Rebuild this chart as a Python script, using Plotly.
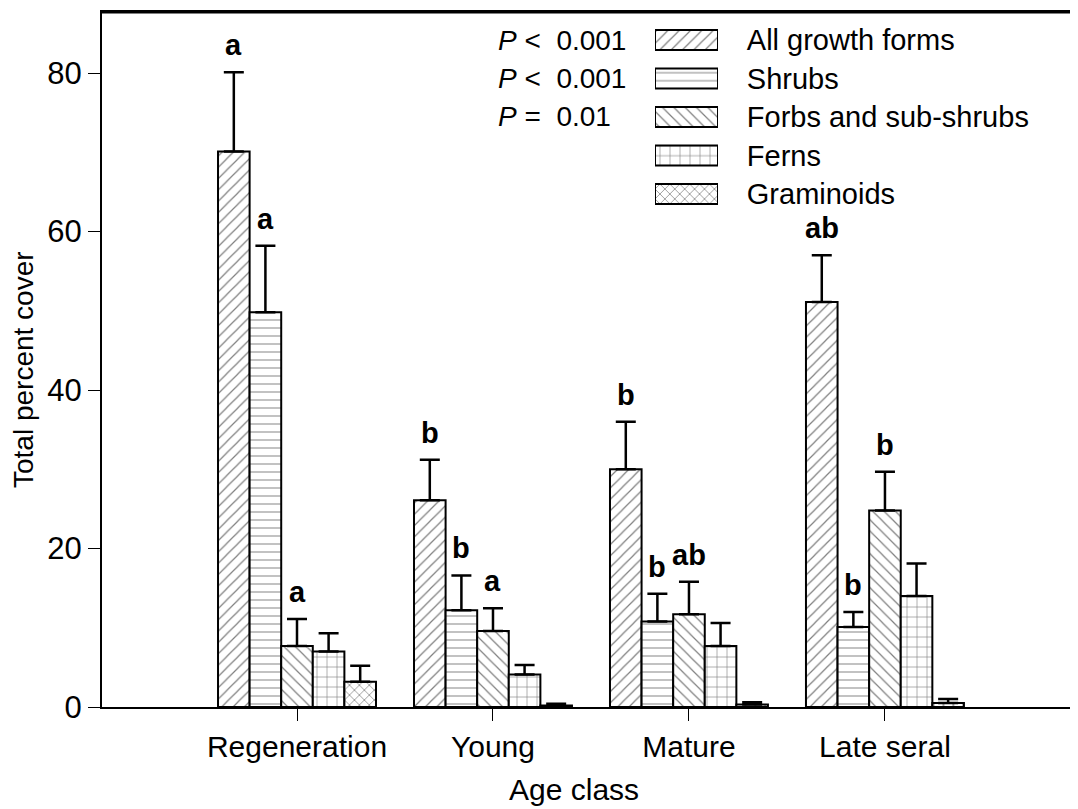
import plotly.graph_objects as go

categories = ["Regeneration", "Young", "Mature", "Late seral"]
series_names = ["All growth forms", "Shrubs", "Forbs and sub-shrubs", "Ferns", "Graminoids"]

all_growth = [70.1, 26.1, 30.0, 51.1]
shrubs = [49.8, 12.2, 10.8, 10.1]
forbs = [7.7, 9.6, 11.7, 24.8]
ferns = [7.0, 4.1, 7.7, 14.0]
graminoids = [3.2, 0.2, 0.3, 0.5]

all_growth_se = [10.0, 5.1, 6.0, 5.9]
shrubs_se = [8.4, 4.4, 3.5, 1.9]
forbs_se = [3.4, 2.85, 4.1, 4.9]
ferns_se = [2.3, 1.2, 2.9, 4.1]
graminoids_se = [2.0, 0.2, 0.3, 0.5]

all_growth_letters = ["a", "b", "b", "ab"]
shrubs_letters = ["a", "b", "b", "b"]
forbs_letters = ["a", "a", "ab", "b"]

p_values = ["<i>P</i> <  0.001", "<i>P</i> <  0.001", "<i>P</i> =  0.01  "]

values = [all_growth, shrubs, forbs, ferns, graminoids]
errors = [all_growth_se, shrubs_se, forbs_se, ferns_se, graminoids_se]
letters = [all_growth_letters, shrubs_letters, forbs_letters, None, None]
patterns = ["/", "-", "\\", "+", "x"]
pattern_sizes = [8, 8, 8, 10, 7]
pattern_solidity = [0.15, 0.12, 0.15, 0.12, 0.2]

FONT = "Liberation Sans, Arial, sans-serif"
BARGAP = 0.194
n = len(series_names)

# page body has an 8px margin; the figure is sized/offset to land on the reference pixels
OFF = 8
W, H = 1070, 801
L, R, T, B = 94, 0, 4, 102
PW, PH = W - L - R, H - T - B
PX_PER_UNIT = 7.925


def px_x(sx):
    return (sx - OFF - L) / PW


def px_y(sy):
    return 1 - (sy - OFF - T) / PH


fig = go.Figure()
for i, name in enumerate(series_names):
    fig.add_trace(go.Bar(
        x=categories, y=values[i], name=name, showlegend=False,
        marker=dict(
            color="white",
            line=dict(color="black", width=2),
            pattern=dict(shape=patterns[i], fgcolor="black", bgcolor="white",
                         size=pattern_sizes[i], solidity=pattern_solidity[i],
                         fillmode="overlay"),
        ),
        error_y=dict(type="data", array=errors[i], arrayminus=[0] * len(errors[i]),
                     symmetric=False, color="black", thickness=2.5, width=10),
    ))

# legend drawn as patterned swatches on a small inset axis
fig.add_trace(go.Bar(
    x=[1] * n, y=series_names, orientation="h", width=0.52,
    xaxis="x2", yaxis="y2", showlegend=False, hoverinfo="skip",
    marker=dict(
        color="white", line=dict(color="black", width=2),
        pattern=dict(shape=patterns, fgcolor="black", bgcolor="white",
                     size=pattern_sizes, solidity=pattern_solidity, fillmode="overlay"),
    ),
))

annotations = []
bar_w = (1 - BARGAP) / n
for i in range(n):
    if letters[i] is None:
        continue
    for j, cat in enumerate(categories):
        annotations.append(dict(
            x=j + (i - (n - 1) / 2) * bar_w, y=values[i][j] + errors[i][j],
            xref="x", yref="y", text="<b>%s</b>" % letters[i][j], showarrow=False,
            yanchor="bottom", yshift=9, font=dict(family=FONT, size=29, color="black"),
        ))

row_h = 38.5
row0 = 40
for k, p in enumerate(p_values):
    annotations.append(dict(
        x=px_x(628), y=px_y(row0 + k * row_h), xref="paper", yref="paper", text=p,
        showarrow=False, xanchor="right", yanchor="middle",
        font=dict(family=FONT, size=28, color="black"),
    ))

# axis titles placed as annotations at their pixel positions
annotations.append(dict(
    x=px_x(574), y=px_y(789), xref="paper", yref="paper", text="Age class",
    showarrow=False, xanchor="center", yanchor="middle",
    font=dict(family=FONT, size=30, color="black"),
))
annotations.append(dict(
    x=px_x(23), y=px_y(370), xref="paper", yref="paper", text="Total percent cover",
    showarrow=False, xanchor="center", yanchor="middle", textangle=-90,
    font=dict(family=FONT, size=28, color="black"),
))

# top frame drawn as a thin filled band so it stays visible
top_frame = dict(type="rect", xref="paper", yref="paper", x0=0, x1=1,
                 y0=px_y(13.5), y1=px_y(11), fillcolor="black",
                 line=dict(width=0), layer="above")

fig.update_layout(
    width=W, height=H,
    margin=dict(l=L, r=R, t=T, b=B, pad=0, autoexpand=False),
    paper_bgcolor="white", plot_bgcolor="white",
    barmode="group", bargap=BARGAP, bargroupgap=0,
    font=dict(family=FONT, size=28, color="black"),
    showlegend=False,
    annotations=annotations,
    shapes=[top_frame],
    xaxis=dict(
        range=[-0.995, 3.985], showline=True, linecolor="black", linewidth=2,
        mirror=True, ticks="outside", ticklen=12, tickwidth=1, tickcolor="black",
        tickfont=dict(family=FONT, size=30), automargin=False,
        showgrid=False, zeroline=False,
    ),
    yaxis=dict(
        range=[0, PH / PX_PER_UNIT], showline=True, linecolor="black", linewidth=2,
        ticks="outside", ticklen=12, tickwidth=1, tickcolor="black",
        tickvals=[0, 20, 40, 60, 80], tickfont=dict(family=FONT, size=31),
        automargin=False, showgrid=False, zeroline=False,
    ),
    xaxis2=dict(
        domain=[px_x(655), px_x(718)], range=[0, 1], anchor="y2",
        visible=False, fixedrange=True, automargin=False,
    ),
    yaxis2=dict(
        domain=[px_y(row0 + (n - 0.5) * row_h), px_y(row0 - 0.5 * row_h)],
        anchor="x2", side="right", type="category",
        categoryorder="array", categoryarray=series_names, autorange="reversed",
        showline=False, showgrid=False, zeroline=False, automargin=False,
        ticks="outside", ticklen=22, tickcolor="rgba(0,0,0,0)",
        tickfont=dict(family=FONT, size=29, color="black"), fixedrange=True,
    ),
)

fig.write_html("out.html")
